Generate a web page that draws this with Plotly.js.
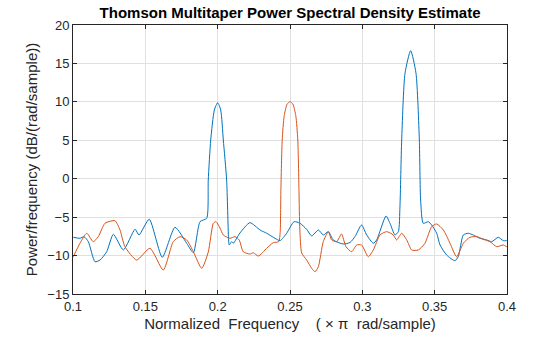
<!DOCTYPE html>
<html>
<head>
<meta charset="utf-8">
<script src="https://cdn.plot.ly/plotly-3.0.1.min.js"></script>
<style>html,body{margin:0;padding:0;background:#fff;}#chart{width:560px;height:337px;}</style>
</head>
<body>
<div id="chart"></div>
<script>
const blueX = [0.1002,0.1048,0.1076,0.1106,0.1152,0.1187,0.1233,0.1279,0.1348,0.1429,0.1456,0.1527,0.1617,0.1705,0.1786,0.1832,0.1878,0.1924,0.1935,0.1952,0.1977,0.2000,0.2021,0.2039,0.2062,0.2075,0.2080,0.2097,0.2108,0.2154,0.2223,0.2293,0.2339,0.2396,0.2431,0.2477,0.2528,0.2569,0.2615,0.2650,0.2696,0.2730,0.2765,0.2799,0.2868,0.2915,0.2950,0.2995,0.3030,0.3076,0.3099,0.3164,0.3191,0.3226,0.3249,0.3260,0.3272,0.3295,0.3334,0.3371,0.3394,0.3403,0.3421,0.3456,0.3479,0.3514,0.3537,0.3583,0.3640,0.3663,0.3698,0.3732,0.3767,0.3813,0.3860,0.3894,0.3940,0.3974,0.3998];
const blueY = [-7.62,-7.75,-7.54,-8.19,-10.80,-10.58,-9.50,-7.23,-9.27,-6.58,-7.32,-5.28,-10.22,-6.32,-8.40,-9.63,-5.59,-5.15,-0.17,5.04,8.94,9.89,8.94,5.04,-0.17,-7.71,-8.62,-8.19,-8.40,-7.06,-5.72,-6.67,-7.10,-7.75,-8.06,-7.10,-5.59,-5.80,-6.58,-7.45,-6.67,-7.32,-6.89,-7.97,-8.50,-8.30,-7.50,-6.02,-7.32,-8.40,-7.97,-4.85,-5.80,-7.32,-6.89,-3.64,5.04,13.72,16.66,13.72,5.04,-2.77,-5.80,-5.59,-6.02,-7.10,-8.62,-9.93,-10.67,-10.15,-7.32,-7.10,-7.32,-7.75,-7.97,-8.19,-7.62,-8.06,-8.06];
const orangeX = [0.1002,0.1048,0.1095,0.1140,0.1175,0.1221,0.1290,0.1325,0.1359,0.1440,0.1532,0.1624,0.1693,0.1740,0.1786,0.1832,0.1890,0.1935,0.1970,0.1988,0.2016,0.2039,0.2085,0.2120,0.2149,0.2177,0.2223,0.2246,0.2281,0.2339,0.2384,0.2422,0.2432,0.2437,0.2446,0.2460,0.2480,0.2500,0.2520,0.2540,0.2554,0.2562,0.2568,0.2581,0.2615,0.2650,0.2673,0.2696,0.2730,0.2765,0.2788,0.2823,0.2856,0.2887,0.2926,0.2961,0.2995,0.3041,0.3076,0.3122,0.3168,0.3214,0.3237,0.3272,0.3307,0.3341,0.3387,0.3433,0.3479,0.3514,0.3560,0.3606,0.3652,0.3698,0.3744,0.3790,0.3836,0.3882,0.3929,0.3974,0.3998];
const orangeY = [-10.15,-8.40,-7.10,-8.19,-7.54,-5.80,-5.46,-6.67,-8.84,-10.58,-9.05,-11.88,-8.19,-7.54,-7.97,-9.50,-11.66,-9.54,-5.80,-5.59,-6.41,-7.32,-7.75,-7.54,-7.97,-9.50,-9.80,-9.63,-10.06,-9.05,-8.32,-8.19,-7.00,-1.50,5.00,8.20,9.70,10.02,9.70,8.20,5.00,-1.50,-6.67,-9.67,-10.58,-11.66,-12.10,-11.45,-8.19,-6.89,-7.97,-8.19,-7.19,-8.84,-9.50,-8.62,-8.62,-10.15,-9.27,-7.32,-6.89,-7.32,-7.97,-7.10,-7.97,-9.27,-9.27,-8.40,-6.24,-5.89,-6.67,-8.40,-10.15,-8.40,-7.62,-7.54,-7.88,-8.19,-8.84,-8.62,-8.84];
const xTicks = [0.1,0.15,0.2,0.25,0.3,0.35,0.4];
const xTickText = ['0.1','0.15','0.2','0.25','0.3','0.35','0.4'];
const yTicks = [-15,-10,-5,0,5,10,15,20];

const traces = [
  {x: blueX, y: blueY, type:'scatter', mode:'lines', line:{color:'#0072BD', width:1, shape:'spline', smoothing:0.6}, hoverinfo:'skip'},
  {x: orangeX, y: orangeY, type:'scatter', mode:'lines', line:{color:'#D95319', width:1, shape:'spline', smoothing:0.6}, hoverinfo:'skip'}
];
const axisCommon = {showline:true, linecolor:'#262626', linewidth:1, mirror:'ticks', ticks:'inside', ticklen:4, tickcolor:'#262626', showgrid:true, gridcolor:'#e0e0e0', gridwidth:1, zeroline:false, tickfont:{family:'Liberation Sans, Arial, sans-serif', size:13, color:'#262626'}};
const layout = {
  width:560, height:337,
  margin:{l:73, r:53, t:25, b:43},
  paper_bgcolor:'#ffffff', plot_bgcolor:'#ffffff',
  showlegend:false,
  font:{family:'Liberation Sans, Arial, sans-serif', color:'#262626'},
  title:{text:'<b>Thomson Multitaper Power Spectral Density Estimate</b>', font:{size:15, color:'#000'}, x:0.518, xanchor:'center', y:0.962, yanchor:'middle'},
  xaxis: Object.assign({}, axisCommon, {range:[0.1,0.4], tickvals:xTicks, ticktext:xTickText, title:{text:'Normalized\u00a0\u00a0Frequency\u00a0\u00a0\u00a0\u00a0(\u00a0\u00d7\u00a0\u03c0\u00a0\u00a0rad/sample)', font:{size:15, color:'#262626'}, standoff:5}}),
  yaxis: Object.assign({}, axisCommon, {range:[-15,20], tickvals:yTicks, title:{text:'Power/frequency (dB/(rad/sample))', font:{size:15, color:'#262626'}, standoff:6}})
};
Plotly.newPlot('chart', traces, layout, {displayModeBar:false, staticPlot:true});
</script>
</body>
</html>
